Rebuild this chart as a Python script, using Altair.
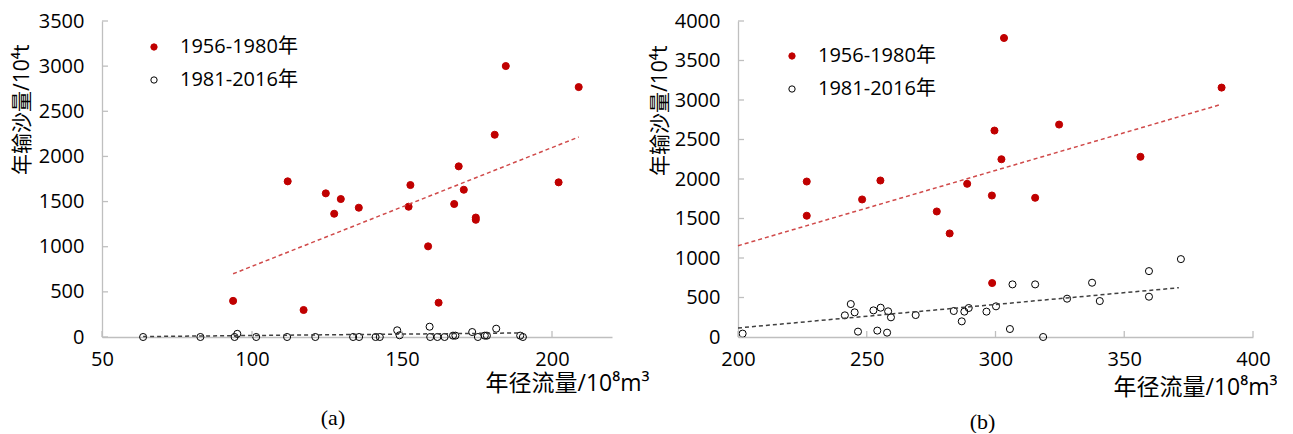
import altair as alt
import pandas as pd

P1 = "1956-1980年"
P2 = "1981-2016年"
FONT = "Open Sans, Noto Sans CJK SC"
GRAY = "#bfbfbf"

# ---------- Panel (a) ----------
a_red_x = [93.7, 117.2, 111.9, 124.6, 129.6, 127.4, 135.6, 152.2, 152.8, 158.7,
           162.2, 167.4, 168.9, 170.6, 174.6, 174.6, 180.9, 184.6, 202.2, 208.9]
a_red_y = [400, 299, 1724, 1591, 1528, 1365, 1432, 1443, 1683, 1004,
           380, 1473, 1890, 1631, 1323, 1298, 2240, 3001, 1713, 2768]
a_open_x = [63.7, 82.8, 94.2, 95.1, 101.4, 111.7, 121.1, 133.7, 135.7, 141.2,
            142.6, 148.4, 149.2, 159.2, 159.4, 161.8, 164.2, 167.0, 167.8, 173.4,
            175.3, 177.6, 178.3, 181.4, 189.4, 190.3]
a_open_y = [0, 0, 0, 35, 0, 0, 0, 0, 0, 0,
            0, 74, 19, 114, 0, 0, 0, 15, 15, 55,
            0, 15, 15, 92, 15, 0]
a_trend_red_x = [93.7, 208.9]
a_trend_red_y = [700, 2215]
a_trend_blk_x = [63.7, 190.3]
a_trend_blk_y = [5, 45]
a_x_ticks = [50, 100, 150, 200]
a_y_ticks = [0, 500, 1000, 1500, 2000, 2500, 3000, 3500]

# ---------- Panel (b) ----------
b_red_x = [226.7, 226.7, 248.2, 255.3, 277.2, 282.2, 289.0, 298.6, 298.7, 299.6,
           302.3, 303.3, 315.4, 324.7, 356.3, 387.8]
b_red_y = [1968, 1535, 1741, 1981, 1589, 1311, 1939, 1791, 683, 2613,
           2250, 3785, 1762, 2689, 2281, 3157]
b_open_x = [201.8, 241.5, 243.8, 245.3, 246.6, 252.6, 255.4, 254.1, 258.3, 257.9,
            259.4, 269.0, 283.8, 286.9, 287.9, 289.6, 296.5, 300.2, 306.6, 305.6,
            315.4, 318.5, 327.8, 337.5, 340.5, 359.6, 359.6, 372.0]
b_open_y = [43, 274, 417, 312, 68, 337, 371, 81, 325, 55,
            249, 278, 329, 198, 321, 367, 321, 388, 666, 101,
            666, 0, 485, 687, 455, 834, 510, 986]
b_trend_red_x = [200, 387.8]
b_trend_red_y = [1155, 2946]
b_trend_blk_x = [200, 371.2]
b_trend_blk_y = [114, 624]
b_x_ticks = [200, 250, 300, 350, 400]
b_y_ticks = [0, 500, 1000, 1500, 2000, 2500, 3000, 3500, 4000]

W, H = 510, 316


def panel(rx, ry, ox, oy, trx, try_, tbx, tby, xdom, xvals, ydom, yvals,
          lx, ly, caption, cap_dx, ytitle_x, ytitle_y, xtitle_x, xtitle_y, width):
    pts = pd.DataFrame({
        "x": rx + ox,
        "y": ry + oy,
        "period": [P1] * len(rx) + [P2] * len(ox),
    })
    xs = alt.Scale(domain=xdom, nice=False, zero=False)
    ys = alt.Scale(domain=ydom, nice=False, zero=True)
    xaxis = alt.Axis(values=xvals, format="d", title="年径流量/10⁸m³", titleX=xtitle_x, titleY=xtitle_y,
                     titleAlign="right", titleBaseline="middle", labelPadding=12,
                     labelFlush=False, titleFontSize=23)
    yaxis = alt.Axis(values=yvals, format="d", title="年输沙量/10⁴t", titleX=ytitle_x, titleY=ytitle_y,
                     titleAlign="right", titleBaseline="middle", titleAngle=270,
                     labelPadding=18)

    legend = alt.Legend(
        title=None, orient="none", legendX=lx, legendY=ly,
        labelFontSize=20, labelFont=FONT, labelColor="black",
        symbolSize=40, symbolStrokeWidth=1, symbolType="circle",
        rowPadding=13, labelOffset=16,
    )
    points = alt.Chart(pts).mark_point(filled=True, opacity=1, strokeWidth=1, size=50).encode(
        x=alt.X("x:Q", scale=xs, axis=xaxis),
        y=alt.Y("y:Q", scale=ys, axis=yaxis),
        fill=alt.Fill("period:N", scale=alt.Scale(domain=[P1, P2], range=["#c00000", "transparent"]),
                      legend=legend),
        stroke=alt.Stroke("period:N", scale=alt.Scale(domain=[P1, P2], range=["#c00000", "#000000"]),
                          legend=legend),
    )

    tr = pd.DataFrame({"x": trx, "y": try_})
    tb = pd.DataFrame({"x": tbx, "y": tby})
    red_line = alt.Chart(tr).mark_line(color="#d04a4a", strokeDash=[4, 3], strokeWidth=1.5).encode(
        x=alt.X("x:Q", scale=xs, axis=xaxis), y=alt.Y("y:Q", scale=ys, axis=yaxis))
    blk_line = alt.Chart(tb).mark_line(color="#404040", strokeDash=[4, 3], strokeWidth=1.5).encode(
        x=alt.X("x:Q", scale=xs, axis=xaxis), y=alt.Y("y:Q", scale=ys, axis=yaxis))

    yt = alt.Chart(pd.DataFrame({"y": yvals})).mark_rule(color=GRAY, strokeWidth=1.3).encode(
        y=alt.Y("y:Q", scale=ys, axis=yaxis), x=alt.value(0), x2=alt.value(6))
    xt = alt.Chart(pd.DataFrame({"x": xvals})).mark_rule(color=GRAY, strokeWidth=1.3).encode(
        x=alt.X("x:Q", scale=xs, axis=xaxis), y=alt.value(H), y2=alt.value(H - 6))

    return alt.layer(points, yt, xt, red_line, blk_line).properties(
        width=width, height=H,
        title=alt.TitleParams(caption, orient="bottom", anchor="middle", frame="group",
                              dx=cap_dx, offset=13, font="Liberation Serif",
                              fontSize=22, fontWeight="normal", color="black"),
    )


left = panel(a_red_x, a_red_y, a_open_x, a_open_y,
             a_trend_red_x, a_trend_red_y, a_trend_blk_x, a_trend_blk_y,
             [50, 220], a_x_ticks, [0, 3500], a_y_ticks,
             42, 16, "(a)", -24, -80, 23, 547, 46, 510)
right = panel(b_red_x, b_red_y, b_open_x, b_open_y,
              b_trend_red_x, b_trend_red_y, b_trend_blk_x, b_trend_blk_y,
              [200, 400], b_x_ticks, [0, 4000], b_y_ticks,
              44, 25, "(b)", -13, -78, 24, 539, 50, 515)

chart = alt.hconcat(left, right, spacing=126, bounds="flush").resolve_scale(
    fill="independent", stroke="independent"
).resolve_legend(
    fill="independent", stroke="independent"
).properties(
    padding={"left": 3, "top": 3, "right": 0, "bottom": 0}
).configure_view(
    stroke=None
).configure_axis(
    domainColor=GRAY, domainWidth=1.3, grid=False, ticks=False,
    labelFont=FONT, labelFontSize=20, labelColor="black",
    titleFont=FONT, titleFontSize=21, titleFontWeight="normal", titleColor="black",
)

chart.save("out.html", embed_options={"renderer": "svg", "actions": False})
